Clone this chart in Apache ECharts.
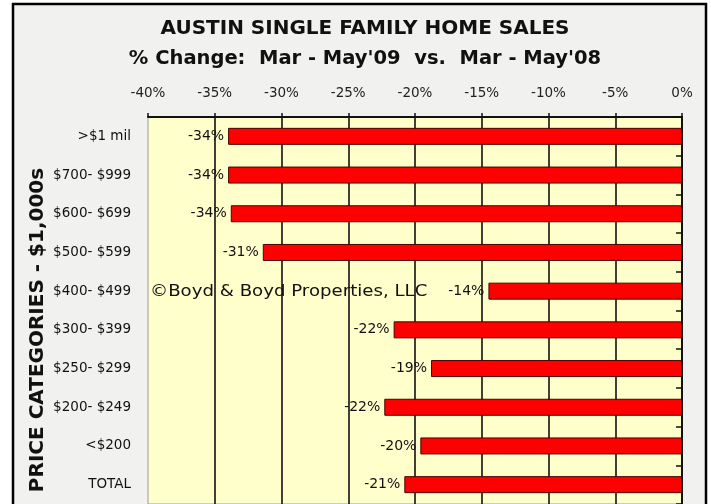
<!DOCTYPE html>
<html>
<head>
<meta charset="utf-8">
<title>Austin single family home sales</title>
<script src="https://cdn.jsdelivr.net/npm/echarts@6/dist/echarts.min.js"></script>
<style>
    html, body {
        margin: 0;
        padding: 0;
        background: #fff;
    }
    #homeSales {
        width: 711px;
        height: 504px;
    }
</style>
</head>
<body>
<div id="homeSales"></div>
<script>
    // price categories, top to bottom
    const categories = ['>$1 mil', '$700- $999', '$600- $699', '$500- $599', '$400- $499',
        '$300- $399', '$250- $299', '$200- $249', '<$200', 'TOTAL'];
    // % change Mar-May'09 vs Mar-May'08
    const pctChange = [-34.0, -34.0, -33.8, -31.4, -14.5, -21.6, -18.8, -22.3, -19.6, -20.8];
    const xTicks = [-40, -35, -30, -25, -20, -15, -10, -5, 0];

    const chart = echarts.init(document.getElementById('homeSales'));
    const font = 'DejaVu Sans';

    const option = {
        animation: false,
        textStyle: { fontFamily: font },
        title: {
            text: 'AUSTIN SINGLE FAMILY HOME SALES',
            subtext: '% Change:  Mar - May\'09  vs.  Mar - May\'08',
            left: 360,
            textAlign: 'center',
            top: 14,
            itemGap: 10,
            textStyle: {
                fontFamily: font,
                fontSize: 20,
                fontWeight: 'bold',
                color: '#111'
            },
            subtextStyle: {
                fontFamily: font,
                fontSize: 19.5,
                fontWeight: 'bold',
                color: '#111'
            }
        },
        graphic: [
            {
                // outer frame
                type: 'rect',
                z: -10,
                shape: { x: 13, y: 4, width: 693, height: 520 },
                style: { fill: '#f1f1ef', stroke: '#000', lineWidth: 2.5 }
            },
            {
                type: 'text',
                x: 38,
                y: 330,
                rotation: Math.PI / 2,
                style: {
                    text: 'PRICE CATEGORIES - $1,000s',
                    font: 'bold 20px "DejaVu Sans"',
                    fill: '#111',
                    align: 'center',
                    verticalAlign: 'middle'
                }
            },
            {
                type: 'text',
                x: 150,
                y: 292,
                scaleX: 1.21,
                z: 10,
                style: {
                    text: '\u00a9Boyd & Boyd Properties, LLC',
                    font: '15px "DejaVu Sans"',
                    fill: '#111',
                    verticalAlign: 'middle'
                }
            }
        ],
        grid: {
            left: 148,
            right: 29,
            top: 117,
            height: 388,
            show: true,
            backgroundColor: '#ffffcc',
            borderColor: '#9a9a9a',
            borderWidth: 1
        },
        xAxis: {
            type: 'value',
            position: 'top',
            min: xTicks[0],
            max: xTicks[xTicks.length - 1],
            interval: 5,
            axisLine: { show: true, lineStyle: { color: '#111', width: 2 } },
            axisTick: { show: true, length: 4, lineStyle: { color: '#111', width: 1.5 } },
            axisLabel: {
                formatter: '{value}%',
                fontSize: 13.5,
                color: '#222',
                margin: 17
            },
            splitLine: {
                show: true,
                showMinLine: false,
                showMaxLine: false,
                lineStyle: { color: '#111', width: 1.6 }
            }
        },
        yAxis: [
            {
                type: 'category',
                data: categories,
                inverse: true,
                position: 'left',
                axisLine: { show: false },
                axisTick: { show: false },
                axisLabel: { fontSize: 13.5, color: '#111', margin: 17 }
            },
            {
                type: 'category',
                data: categories,
                inverse: true,
                position: 'right',
                axisLine: { show: true, onZero: false, lineStyle: { color: '#111', width: 2 } },
                axisTick: { show: true, inside: true, length: 6, lineStyle: { color: '#111', width: 1.5 } },
                axisLabel: { show: false }
            }
        ],
        series: [
            {
                name: '% change',
                type: 'bar',
                yAxisIndex: 0,
                barWidth: 17,
                data: pctChange,
                itemStyle: {
                    color: '#ff0000',
                    borderColor: '#4a0000',
                    borderWidth: 1
                },
                label: {
                    show: true,
                    position: 'left',
                    distance: 4,
                    fontSize: 14,
                    color: '#111',
                    formatter: p => Math.round(p.value) + '%'
                }
            }
        ]
    };

    chart.setOption(option);
</script>
</body>
</html>
